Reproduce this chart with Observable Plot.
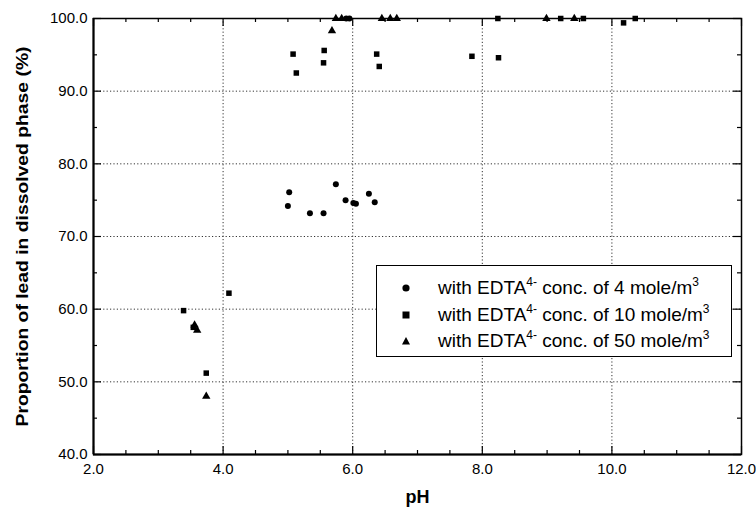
<!DOCTYPE html>
<html><head><meta charset="utf-8">
<script src="https://cdn.jsdelivr.net/npm/d3@7"></script>
<script src="https://cdn.jsdelivr.net/npm/@observablehq/plot@0.6"></script>
<style>
body{margin:0;background:#fff;}
#wrap{position:relative;width:756px;height:514px;}
.legend{position:absolute;left:376px;top:265px;width:356px;height:92px;box-sizing:border-box;border:1.2px solid #000;background:#fff;font-family:"Liberation Sans",Arial,sans-serif;font-size:19px;color:#000;}
.row{position:absolute;left:0;height:26px;line-height:26px;white-space:nowrap;}
.row svg{position:absolute;left:22px;top:6px;}
.row span.t{position:absolute;left:61px;top:0;}
sup{font-size:12px;vertical-align:0;position:relative;top:-8px;}
</style></head><body><div id="wrap"></div><script>
// Data
const pH4  = [5.00, 5.02, 5.34, 5.55, 5.74, 5.89, 6.01, 6.05, 6.25, 6.34, 5.90, 5.95];
const val4 = [74.2, 76.1, 73.2, 73.2, 77.2, 75.0, 74.6, 74.5, 75.9, 74.7, 100, 100];
const pH10  = [3.39, 3.54, 3.74, 4.09, 5.08, 5.13, 5.55, 5.56, 6.37, 6.41, 7.84, 8.25, 8.24, 9.21, 9.56, 10.18, 10.36];
const val10 = [59.8, 57.5, 51.2, 62.2, 95.1, 92.5, 93.9, 95.6, 95.1, 93.4, 94.8, 94.6, 100, 100, 100, 99.4, 100];
const pH50  = [3.56, 3.60, 3.74, 5.68, 5.74, 5.83, 6.45, 6.58, 6.68, 8.99, 9.42];
const val50 = [57.8, 57.1, 48.0, 98.3, 100, 100, 100, 100, 100, 100, 100];
const series = ["4", "10", "50"];
const xTicks = [2, 4, 6, 8, 10, 12];
const yTicks = [40, 50, 60, 70, 80, 90, 100];
const xMinor = d3.range(2.5, 12, 0.5).filter(v => v % 2 !== 0);
const yMinor = d3.range(45, 100, 10);
const xGrid = [4, 6, 8, 10];
const yGrid = [50, 60, 70, 80, 90];
const xLabel = "pH";
const yLabel = "Proportion of lead in dissolved phase (%)";

const data = [
  ...pH4.map((x, i) => ({x, y: val4[i], s: "4"})),
  ...pH10.map((x, i) => ({x, y: val10[i], s: "10"})),
  ...pH50.map((x, i) => ({x, y: val50[i], s: "50"}))
];

const W = 756, H = 514, mT = 18, mB = 60, mL = 93, mR = 15;
const fH = H - mT - mB, fW = W - mL - mR;
const majLen = 8, minLen = 4;
const grid = {stroke: "#333", strokeWidth: 1, strokeDasharray: "1.2,2.2"};
const tk = {stroke: "#000", strokeWidth: 1.2};

const plot = Plot.plot({
  width: W, height: H,
  marginTop: mT, marginBottom: mB, marginLeft: mL, marginRight: mR,
  style: {fontFamily: "'Liberation Sans', Arial, sans-serif", fontSize: "15px", color: "#000", background: "#fff"},
  x: {domain: [2, 12]},
  y: {domain: [40, 100]},
  symbol: {domain: series, range: ["circle", "square", "triangle"]},
  marks: [
    Plot.ruleX(xGrid, {x: d => d, ...grid}),
    Plot.ruleY(yGrid, {y: d => d, ...grid}),
    // bottom & top ticks
    Plot.tickX(xTicks, {x: d => d, insetTop: fH - majLen, ...tk}),
    Plot.tickX(xMinor, {x: d => d, insetTop: fH - minLen, ...tk}),
    Plot.tickX(xTicks, {x: d => d, insetBottom: fH - majLen, ...tk}),
    Plot.tickX(xMinor, {x: d => d, insetBottom: fH - minLen, ...tk}),
    // left & right ticks
    Plot.tickY(yTicks, {y: d => d, insetRight: fW - majLen, ...tk}),
    Plot.tickY(yMinor, {y: d => d, insetRight: fW - minLen, ...tk}),
    Plot.tickY(yTicks, {y: d => d, insetLeft: fW - majLen, ...tk}),
    Plot.tickY(yMinor, {y: d => d, insetLeft: fW - minLen, ...tk}),
    Plot.frame({stroke: "#000", strokeWidth: 1.5}),
    Plot.ruleY([40], {stroke: "#000", strokeWidth: 2}),
    Plot.ruleX([2], {stroke: "#000", strokeWidth: 2}),
    Plot.axisX({ticks: xTicks, tickFormat: d3.format(".1f"), tickSize: 0, tickPadding: 9, label: null, fontSize: 15}),
    Plot.axisY({ticks: yTicks, tickFormat: d3.format(".1f"), tickSize: 0, tickPadding: 6, label: null, fontSize: 15}),
    Plot.text([xLabel], {text: d => d, frameAnchor: "bottom", dy: 48, fontWeight: "bold", fontSize: 18}),
    Plot.text([yLabel], {text: d => d, frameAnchor: "left", textAnchor: "middle", dx: -71, rotate: -90, fontWeight: "bold", fontSize: 17, className: "ytitle"}),
    Plot.dot(data, {x: "x", y: "y", symbol: "s", r: d => d.s === "4" ? 4.2 : 4.5, fill: "#000", stroke: "none"})
  ]
});

// stretch the y title along its length to match the reference
d3.select(plot).selectAll(".ytitle text").attr("textLength", 380).attr("lengthAdjust", "spacingAndGlyphs");

const wrap = document.getElementById("wrap");
wrap.appendChild(plot);

const legend = document.createElement("div");
legend.className = "legend";
const sym = {
  "4": '<svg width="14" height="14"><circle cx="7" cy="7" r="3.6" fill="#000"/></svg>',
  "10": '<svg width="14" height="14"><rect x="3.5" y="3.5" width="7" height="7" fill="#000"/></svg>',
  "50": '<svg width="14" height="14"><path d="M7,3 L11,10.5 L3,10.5 Z" fill="#000"/></svg>'
};
series.forEach((s, i) => {
  const row = document.createElement("div");
  row.className = "row";
  row.style.top = (9 + i * 26.5) + "px";
  row.innerHTML = sym[s] + `<span class="t">with EDTA<sup>4-</sup> conc. of ${s} mole/m<sup>3</sup></span>`;
  legend.appendChild(row);
});
wrap.appendChild(legend);
</script></body></html>
